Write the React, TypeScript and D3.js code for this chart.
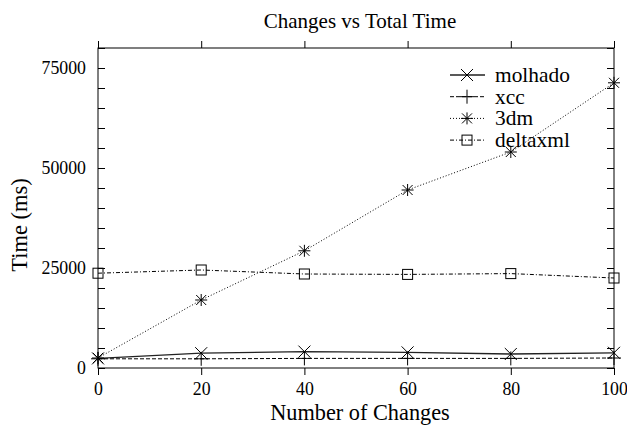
import React, { useRef, useEffect } from 'react';
import * as d3 from 'd3';

const changes = [0, 20, 40, 60, 80, 100];
const molhado = [2400, 3700, 4100, 3900, 3500, 3800];
const xcc = [2300, 2300, 2400, 2400, 2400, 2500];
const dm3 = [2500, 17000, 29300, 44500, 54000, 71300];
const deltaxml = [23700, 24500, 23500, 23400, 23600, 22500];
const seriesNames = ['molhado', 'xcc', '3dm', 'deltaxml'];
const xTicks = [0, 20, 40, 60, 80, 100];
const yTicks = [0, 25000, 50000, 75000];

const W = 627;
const H = 428;
const FONT = 'Liberation Serif, Times New Roman, DejaVu Serif, serif';

const App = () => {
    const ref = useRef<SVGSVGElement>(null);

    useEffect(() => {
        const svg = d3.select(ref.current);
        svg.selectAll('*').remove();

        const margin = { top: 48, right: 13, bottom: 60, left: 98 };
        const width = W - margin.left - margin.right;
        const height = H - margin.top - margin.bottom;

        const x = d3.scaleLinear().domain([0, 100]).range([0, width]);
        const y = d3.scaleLinear().domain([0, 80000]).range([height, 0]);

        const g = svg.append('g').attr('transform', `translate(${margin.left},${margin.top})`);

        // frame
        g.append('rect')
            .attr('width', width).attr('height', height)
            .attr('fill', 'none').attr('stroke', '#000').attr('stroke-width', 1);

        // bottom / top ticks point outward
        const bottom = g.append('g')
            .attr('transform', `translate(0,${height})`)
            .call(d3.axisBottom(x).tickValues(xTicks).tickSize(7).tickPadding(7));
        bottom.attr('font-family', null).attr('font-size', '17.8px');
        bottom.select('.domain').remove();
        bottom.selectAll('text').attr('fill', '#000');

        g.append('g')
            .call(d3.axisTop(x).tickValues(xTicks).tickSize(7).tickFormat(() => ''))
            .call(a => a.select('.domain').remove());

        // left / right ticks inward, minor every 5000
        const minor = d3.range(0, 80001, 5000);
        g.append('g')
            .call(d3.axisLeft(y).tickValues(minor).tickSize(-7).tickFormat(() => ''))
            .call(a => a.select('.domain').remove());
        g.append('g')
            .attr('transform', `translate(${width},0)`)
            .call(d3.axisRight(y).tickValues(minor).tickSize(-7).tickFormat(() => ''))
            .call(a => a.select('.domain').remove());

        const left = g.append('g')
            .call(d3.axisLeft(y).tickValues(yTicks).tickSize(0).tickPadding(12).tickFormat(d3.format('d')));
        left.attr('font-family', null).attr('font-size', '17.8px');
        left.select('.domain').remove();
        left.selectAll('text').attr('fill', '#000');

        // titles
        svg.append('text')
            .attr('x', 360).attr('y', 28)
            .attr('text-anchor', 'middle')
            .style('font-size', '21px')
            .text('Changes vs Total Time');
        svg.append('text')
            .attr('x', 360).attr('y', 420)
            .attr('text-anchor', 'middle')
            .style('font-size', '22.3px')
            .text('Number of Changes');
        svg.append('text')
            .attr('transform', 'translate(27,225) rotate(-90)')
            .attr('text-anchor', 'middle')
            .style('font-size', '22.5px')
            .text('Time (ms)');

        const drawMarker = (sel, type: string, cx: number, cy: number) => {
            const m = sel.append('g').attr('transform', `translate(${cx},${cy})`)
                .attr('stroke', '#000').attr('stroke-width', 1).attr('fill', 'none');
            if (type === 'x') {
                m.append('path').attr('d', 'M-6,-6L6,6M-6,6L6,-6');
            } else if (type === 'plus') {
                m.append('path').attr('d', 'M-7,0L7,0M0,-7L0,7');
            } else if (type === 'star') {
                m.append('path').attr('d', 'M-6,0L6,0M0,-6L0,6M-5,-5L5,5M-5,5L5,-5');
            } else {
                m.append('rect').attr('x', -5).attr('y', -5).attr('width', 10).attr('height', 10);
            }
        };

        const series = [
            { name: seriesNames[0], values: molhado, dash: null, marker: 'x', color: '#222', w: 1.3 },
            { name: seriesNames[1], values: xcc, dash: '4,2', marker: 'plus', color: '#000', w: 1 },
            { name: seriesNames[2], values: dm3, dash: '1,2', marker: 'star', color: '#000', w: 1 },
            { name: seriesNames[3], values: deltaxml, dash: '4,2,1,2', marker: 'square', color: '#000', w: 1 },
        ];

        const line = d3.line<number>()
            .x((d, i) => x(changes[i]))
            .y(d => y(d));

        series.forEach(s => {
            g.append('path')
                .datum(s.values)
                .attr('fill', 'none')
                .attr('stroke', s.color)
                .attr('stroke-width', s.w)
                .attr('stroke-dasharray', s.dash)
                .attr('d', line);
            s.values.forEach((v, i) => drawMarker(g, s.marker, x(changes[i]), y(v)));
        });

        // legend
        const lg = svg.append('g');
        series.forEach((s, i) => {
            const ly = 75 + i * 21.7;
            lg.append('line')
                .attr('x1', 450).attr('x2', 485).attr('y1', ly).attr('y2', ly)
                .attr('stroke', s.color).attr('stroke-width', s.w)
                .attr('stroke-dasharray', s.dash);
            drawMarker(lg, s.marker, 467, ly);
            lg.append('text')
                .attr('x', 495).attr('y', ly).attr('dy', '0.33em')
                .style('font-size', '21.4px')
                .text(s.name);
        });
    }, []);

    return (
        <svg ref={ref} width={W} height={H}
            style={{ position: 'fixed', top: 0, left: 0, background: '#fff', fontFamily: FONT, fontSize: '18px' }}>
        </svg>
    );
};

export default App;
